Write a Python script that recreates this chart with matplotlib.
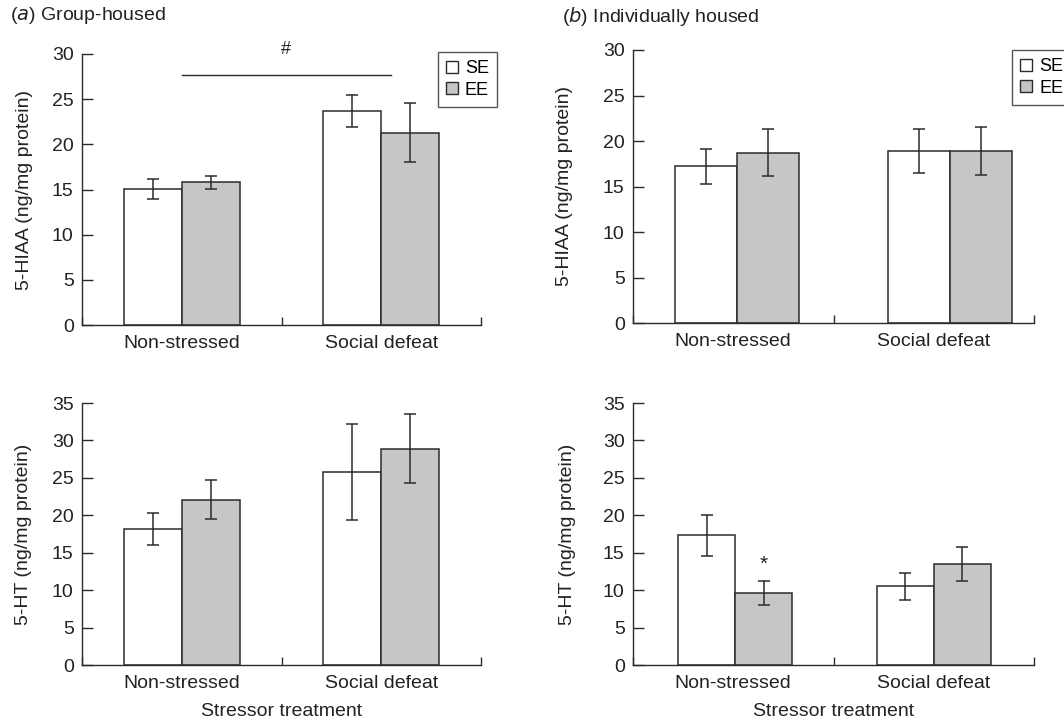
import matplotlib
matplotlib.use("Agg")
import matplotlib.pyplot as plt
import numpy as np

plt.rcParams['font.family'] = ['Liberation Sans', 'DejaVu Sans']

groups = ['Non-stressed', 'Social defeat']
housing = ['SE', 'EE']

# group-housed (a)
hiaa_group_se = [15.1, 23.7]
hiaa_group_se_err = [1.1, 1.8]
hiaa_group_ee = [15.8, 21.3]
hiaa_group_ee_err = [0.7, 3.3]
ht_group_se = [18.2, 25.8]
ht_group_se_err = [2.15, 6.4]
ht_group_ee = [22.1, 28.9]
ht_group_ee_err = [2.65, 4.6]

# individually housed (b)
hiaa_ind_se = [17.2, 18.9]
hiaa_ind_se_err = [1.9, 2.45]
hiaa_ind_ee = [18.7, 18.9]
hiaa_ind_ee_err = [2.6, 2.6]
ht_ind_se = [17.3, 10.5]
ht_ind_se_err = [2.8, 1.8]
ht_ind_ee = [9.6, 13.5]
ht_ind_ee_err = [1.6, 2.3]

DARK = '#2b2b2b'
TXT = '#222222'
GREY = '#c5c6c8'
FS = 14

W, H = 1064, 722
fig = plt.figure(figsize=(W / 100, H / 100), dpi=100)


def make_ax(x0, x1, ytop, ybot):
    return fig.add_axes([x0 / W, 1 - ybot / H, (x1 - x0) / W, (ybot - ytop) / H])


def panel(ax, se, se_err, ee, ee_err, centers, width, ymax, ylabel, ylab_x, xlabel=False):
    centers = np.array(centers)
    ax.bar(centers - width / 2, se, width, color='white', edgecolor=DARK, linewidth=1.1, zorder=2)
    ax.bar(centers + width / 2, ee, width, color=GREY, edgecolor=DARK, linewidth=1.1, zorder=2)
    ax.errorbar(centers - width / 2, se, yerr=se_err, fmt='none', ecolor=DARK,
                elinewidth=1.1, capsize=4, capthick=1.1, zorder=3)
    ax.errorbar(centers + width / 2, ee, yerr=ee_err, fmt='none', ecolor=DARK,
                elinewidth=1.1, capsize=4, capthick=1.1, zorder=3)
    ax.set_xlim(0, 2)
    ax.set_ylim(0, ymax)
    ax.set_yticks(np.arange(0, ymax + 1, 5))
    for s in ['top', 'right']:
        ax.spines[s].set_visible(False)
    for s in ['left', 'bottom']:
        ax.spines[s].set_color(DARK)
        ax.spines[s].set_linewidth(1.0)
    ax.tick_params(axis='y', direction='in', length=8, width=1.0, color=DARK,
                   labelsize=FS, pad=6, labelcolor=TXT)
    ax.set_xticks([0, 1, 2])
    ax.set_xticklabels([])
    ax.tick_params(axis='x', which='major', direction='in', length=6, width=1.0, color=DARK)
    ax.set_xticks([0.5, 1.5], minor=True)
    ax.set_xticklabels(groups, minor=True)
    ax.tick_params(axis='x', which='minor', length=0, labelsize=FS, pad=7, labelcolor=TXT)
    ax.set_ylabel(ylabel, fontsize=FS, color=TXT)
    ax.yaxis.set_label_coords(ylab_x, 0.5)
    if xlabel:
        ax.set_xlabel('Stressor treatment', fontsize=FS, color=TXT, labelpad=8)


def add_legend(ax, x, y):
    h = [plt.Rectangle((0, 0), 1, 1, facecolor='white', edgecolor=DARK, linewidth=1.0),
         plt.Rectangle((0, 0), 1, 1, facecolor=GREY, edgecolor=DARK, linewidth=1.0)]
    leg = ax.legend(h, housing, loc='upper left', bbox_to_anchor=(x, y), fontsize=13,
                    frameon=True, fancybox=False, handlelength=0.65, handleheight=0.65,
                    handletextpad=0.4, labelspacing=0.25, borderpad=0.45,
                    borderaxespad=0)
    leg.get_frame().set_edgecolor(DARK)
    leg.get_frame().set_linewidth(1.0)


# top-left: 5-HIAA, group-housed
ax1 = make_ax(82, 481, 54, 325)
panel(ax1, hiaa_group_se, hiaa_group_se_err, hiaa_group_ee, hiaa_group_ee_err,
      [0.5, 1.5], 0.29, 30, '5-HIAA (ng/mg protein)', -0.123)
ax1.plot([0.5, 1.55], [27.7, 27.7], color=DARK, lw=1.0, clip_on=False)
ax1.text(1.02, 30.5, '#', ha='center', va='center', fontsize=13, color=TXT)
add_legend(ax1, 0.892, 1.007)

# top-right: 5-HIAA, individually housed
ax2 = make_ax(633, 1034, 50, 323)
panel(ax2, hiaa_ind_se, hiaa_ind_se_err, hiaa_ind_ee, hiaa_ind_ee_err,
      [0.52, 1.58], 0.31, 30, '5-HIAA (ng/mg protein)', -0.150)
add_legend(ax2, 0.945, 1.0)

# bottom-left: 5-HT, group-housed
ax3 = make_ax(82, 481, 403, 665)
panel(ax3, ht_group_se, ht_group_se_err, ht_group_ee, ht_group_ee_err,
      [0.5, 1.5], 0.29, 35, '5-HT (ng/mg protein)', -0.125, xlabel=True)

# bottom-right: 5-HT, individually housed
ax4 = make_ax(633, 1034, 403, 665)
panel(ax4, ht_ind_se, ht_ind_se_err, ht_ind_ee, ht_ind_ee_err,
      [0.51, 1.5], 0.285, 35, '5-HT (ng/mg protein)', -0.142, xlabel=True)
ax4.text(0.51 + 0.285 / 2, 13.4, '*', ha='center', va='center', fontsize=15, color=TXT)

fig.text(10 / W, 1 - 16 / H, r'($\it{a}$) Group-housed', fontsize=FS, va='center', color=TXT)
fig.text(562 / W, 1 - 16 / H, r'($\it{b}$) Individually housed', fontsize=FS, va='center', color=TXT)

fig.savefig('out.png', dpi=100)
